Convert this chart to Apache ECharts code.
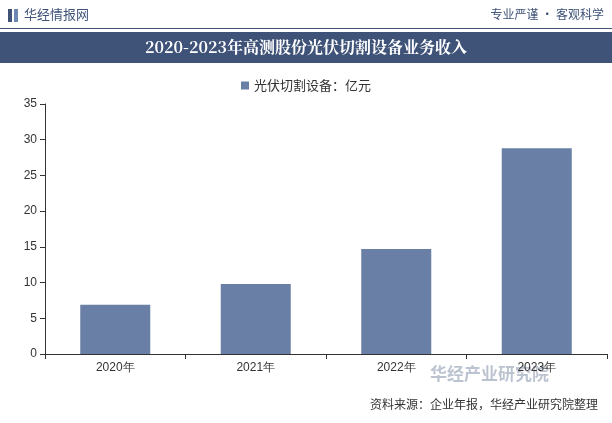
<!DOCTYPE html>
<html><head><meta charset="utf-8">
<script src="https://cdn.jsdelivr.net/npm/echarts@6/dist/echarts.min.js"></script>
<style>body{margin:0}#c{width:612px;height:423px}</style></head>
<body><div id="c"></div>
<script>
const categories=['2020年','2021年','2022年','2023年'];
const values=[6.9,9.8,14.7,28.8];
const seriesName='光伏切割设备：亿元';
const chart=echarts.init(document.getElementById('c'));
chart.setOption({
  backgroundColor:'#fff',
  graphic:[
    {type:'rect',shape:{x:0,y:32,width:612,height:31},style:{fill:'#3f5278'}},
    {type:'text',left:'center',top:39,style:{text:'2020-2023年高测股份光伏切割设备业务收入',fill:'#fff',font:'bold 16px "Noto Serif CJK SC","Noto Sans CJK SC"'}},
    {type:'rect',shape:{x:8,y:9,width:4,height:13},style:{fill:'#3f5278'}},
    {type:'rect',shape:{x:14,y:9,width:4,height:13},style:{fill:'#6d87b3'}},
    {type:'text',left:24,top:8,style:{text:'华经情报网',fill:'#3f5278',font:'13px "Noto Sans CJK SC"'}},
    {type:'text',right:8,top:8,style:{text:'专业严谨 • 客观科学',fill:'#3f5278',font:'12px "Noto Sans CJK SC"'}},
    {type:'rect',shape:{x:0,y:28,width:612,height:1},style:{fill:'#3f5278'}},
    {type:'text',right:14,top:398,style:{text:'资料来源：企业年报，华经产业研究院整理',fill:'#333',font:'12px "Noto Sans CJK SC"'}},
    {type:'text',left:430,top:365,style:{text:'华经产业研究院',fill:'rgba(63,82,120,0.35)',font:'bold 17px "Noto Sans CJK SC"'}}
  ],
  legend:{top:74,left:'center',itemWidth:8,itemHeight:8,icon:'rect',textStyle:{fontSize:13,color:'#333',fontFamily:'Noto Sans CJK SC'}},
  grid:{left:45,right:5,top:104,bottom:69},
  xAxis:{type:'category',data:categories,axisTick:{show:true,alignWithLabel:false,lineStyle:{color:'#333'}},axisLine:{lineStyle:{color:'#333'}},axisLabel:{color:'#333',fontSize:12}},
  yAxis:{type:'value',min:0,max:35,interval:5,splitLine:{show:false},axisLine:{show:true,lineStyle:{color:'#333'}},axisTick:{show:true},axisLabel:{color:'#333',fontSize:12}},
  series:[{name:seriesName,type:'bar',data:values,barWidth:70,itemStyle:{color:'#6a7fa5'}}]
});
</script></body></html>
